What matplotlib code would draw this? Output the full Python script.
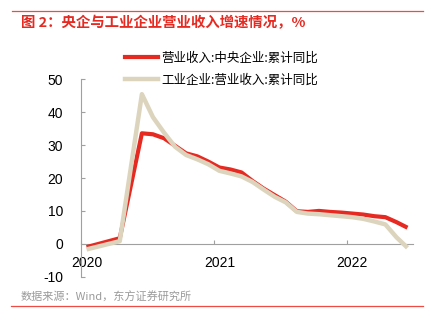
import matplotlib
matplotlib.use("Agg")
import matplotlib.pyplot as plt
from matplotlib.lines import Line2D

plt.rcParams['font.family'] = ['Liberation Sans', 'Noto Sans CJK SC', 'DejaVu Sans']

# monthly cumulative YoY, %
months = ['2020-01', '2020-04', '2020-06', '2020-07', '2020-08', '2020-09',
          '2020-10', '2020-11', '2020-12', '2021-01', '2021-02', '2021-03',
          '2021-04', '2021-05', '2021-06', '2021-07', '2021-08', '2021-09',
          '2021-10', '2021-11', '2021-12', '2022-01', '2022-02', '2022-03',
          '2022-04', '2022-05', '2022-06']
soe_rev = [-1.0, 1.7, 33.6, 33.3, 32.1, 29.8, 27.5, 26.6, 25.0, 23.2, 22.6,
           21.7, 19.1, 16.8, 14.8, 12.8, 9.9, 9.7, 10.0, 9.7, 9.5, 9.2, 8.9,
           8.4, 8.1, 6.6, 4.9]
ind_rev = [-1.7, 0.8, 45.5, 38.5, 33.8, 29.5, 27.0, 25.7, 24.2, 22.2, 21.4,
           20.5, 18.8, 16.5, 14.3, 12.6, 9.7, 9.2, 9.0, 8.7, 8.4, 8.1, 7.6,
           6.8, 5.9, 2.0, -1.2]
year_labels = ['2020', '2021', '2022']
yticks = [-10, 0, 10, 20, 30, 40, 50]

RED = '#E62A22'
TAN = '#DDD4BE'
AXIS = '#A0A0A0'


def month_pos(s):
    y, m = s.split('-')
    return (int(y) - 2020) * 12 + int(m) - 1 + 0.5


x = [month_pos(m) for m in months]

fig = plt.figure(figsize=(4.38, 3.30), dpi=100)
ax = fig.add_axes([0.185, 0.1615, 0.758, 0.598])

ax.plot(x, soe_rev, color=RED, lw=3.0, solid_capstyle='butt', zorder=3)
ax.plot(x, ind_rev, color=TAN, lw=3.2, solid_capstyle='butt', zorder=4)

ax.set_xlim(0, 30)
ax.set_ylim(-10, 50)
ax.set_yticks(yticks)
ax.set_yticklabels([str(v) for v in yticks])

# year ticks at Jan 1, year labels centred on the January point
year_starts = [12 * i for i in range(len(year_labels))]
ax.set_xticks(year_starts)
ax.set_xticklabels([])
ax.set_xticks([p + 0.5 for p in year_starts], minor=True)
ax.set_xticklabels(year_labels, minor=True)

for s in ['top', 'right']:
    ax.spines[s].set_visible(False)
ax.spines['bottom'].set_position(('data', 0))
for s in ['left', 'bottom']:
    ax.spines[s].set_color(AXIS)
    ax.spines[s].set_linewidth(0.8)
ax.tick_params(axis='y', direction='in', length=3, color=AXIS, labelsize=10, pad=13)
ax.tick_params(axis='x', which='major', direction='in', length=3, color=AXIS)
ax.tick_params(axis='x', which='minor', length=0, labelsize=10, pad=9)

handles = [Line2D([], [], color=RED, lw=3.0),
           Line2D([], [], color=TAN, lw=3.2)]
ax.legend(handles, ['营业收入:中央企业:累计同比', '工业企业:营业收入:累计同比'],
          loc='upper left', bbox_to_anchor=(0.272, 0.862),
          bbox_transform=fig.transFigure, frameon=False,
          handlelength=2.6, handletextpad=0.25, labelspacing=0.7, borderpad=0,
          prop={'family': ['Noto Sans CJK SC'], 'size': 9.0})

# header / footer
fig.add_artist(Line2D([12 / 438, 423 / 438], [1 - 10.5 / 330] * 2, color='#F04A45', lw=0.9))
fig.text(21 / 438, 1 - 23 / 330, '图 2：央企与工业企业营业收入增速情况，%', color=RED,
         fontsize=10.4, fontweight='bold', va='center', ha='left',
         family=['Noto Sans CJK SC', 'DejaVu Sans'])
fig.text(21 / 438, 1 - 297 / 330, '数据来源：Wind，东方证券研究所', color='#9A9A9A',
         fontsize=8.0, va='center', ha='left', family=['Noto Sans CJK SC', 'DejaVu Sans'])
fig.add_artist(Line2D([11 / 438, 423 / 438], [1 - 306 / 330] * 2, color='#F04A45', lw=0.9))

fig.savefig('out.png', dpi=100)
